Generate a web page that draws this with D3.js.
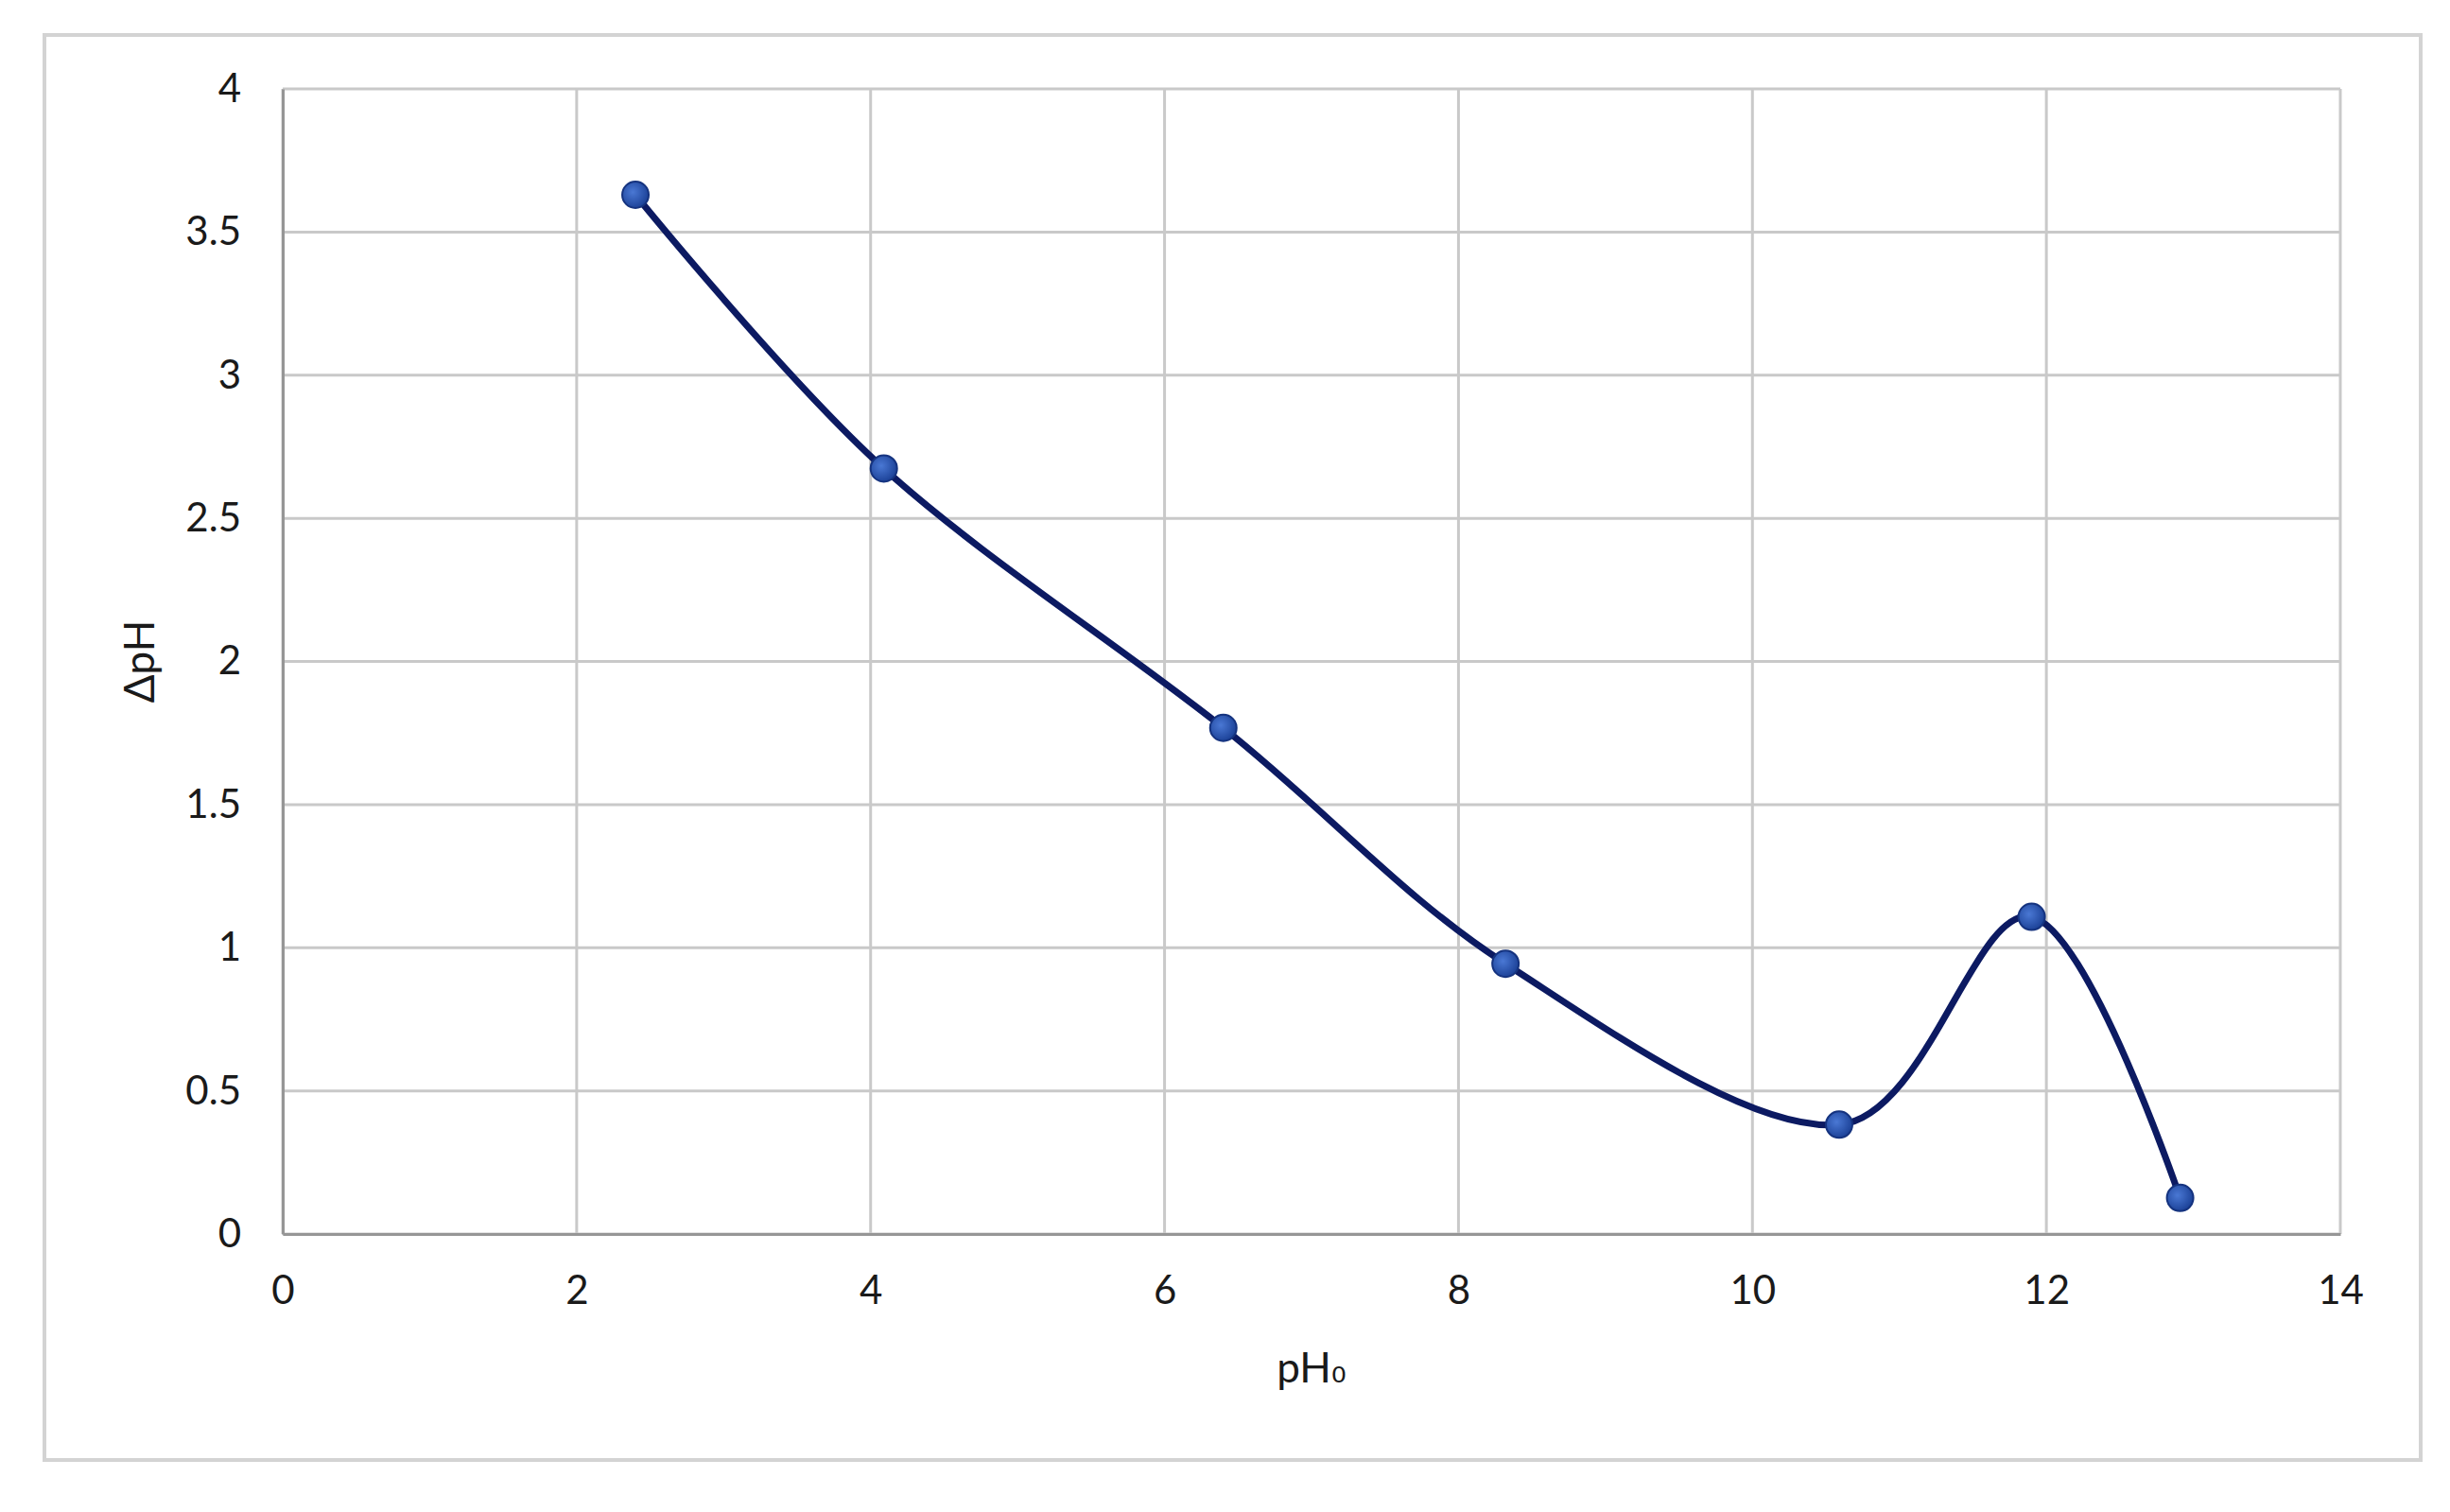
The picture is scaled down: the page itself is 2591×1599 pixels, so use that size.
<!DOCTYPE html>
<html>
<head>
<meta charset="utf-8">
<script src="https://cdn.jsdelivr.net/npm/d3@7"></script>
<style>
  html, body { margin: 0; padding: 0; background: #fff; }
  text { font-family: Lato, "Open Sans", sans-serif; fill: #1a1a1a; }
</style>
</head>
<body>
<div id="chart"></div>
<script>
// values
const ph0 = [2.4, 4.09, 6.4, 8.32, 10.59, 11.9, 12.91];
const deltaPh = [3.63, 2.674, 1.768, 0.944, 0.382, 1.108, 0.126];
const xTicks = [0, 2, 4, 6, 8, 10, 12, 14];
const yTicks = [0, 0.5, 1, 1.5, 2, 2.5, 3, 3.5, 4];

const width = 2591;
const height = 1599;
const margin = { top: 94, right: 116, bottom: 294, left: 299 };

const svg = d3.select('#chart')
  .append('svg')
  .attr('width', width)
  .attr('height', height);

// outer chart frame
svg.append('rect')
  .attr('x', 47)
  .attr('y', 37)
  .attr('width', 2513)
  .attr('height', 1507)
  .attr('fill', '#fff')
  .attr('stroke', '#d3d3d3')
  .attr('stroke-width', 4);

const x = d3.scaleLinear()
  .domain([0, 14])
  .range([margin.left, width - margin.right]);

const y = d3.scaleLinear()
  .domain([0, 4])
  .range([height - margin.bottom, margin.top]);

// grid
svg.append('g')
  .selectAll('line')
  .data(xTicks)
  .join('line')
  .attr('x1', (d) => x(d))
  .attr('x2', (d) => x(d))
  .attr('y1', y(0))
  .attr('y2', y(4))
  .attr('stroke', '#c9c9c9')
  .attr('stroke-width', 3);

svg.append('g')
  .selectAll('line')
  .data(yTicks)
  .join('line')
  .attr('x1', x(0))
  .attr('x2', x(14))
  .attr('y1', (d) => y(d))
  .attr('y2', (d) => y(d))
  .attr('stroke', '#c9c9c9')
  .attr('stroke-width', 3);

// axes, no tick marks, only labels
const xAxis = svg.append('g')
  .attr('transform', `translate(0,${y(0)})`)
  .call(d3.axisBottom(x).tickValues(xTicks).tickSize(0).tickPadding(44));

const yAxis = svg.append('g')
  .attr('transform', `translate(${x(0)},0)`)
  .call(d3.axisLeft(y).tickValues(yTicks).tickSize(0).tickPadding(44).tickFormat(d3.format('')));

[xAxis, yAxis].forEach((g) => {
  g.select('.domain').attr('stroke', '#969696').attr('stroke-width', 3);
  g.selectAll('text')
    .attr('fill', '#1a1a1a')
    .style('font-family', 'Lato, "Open Sans", sans-serif')
    .style('font-size', '42px');
});

// axis titles
const xTitle = svg.append('text')
  .attr('x', (x(0) + x(14)) / 2)
  .attr('y', 1462)
  .attr('text-anchor', 'middle')
  .style('font-size', '44px')
  .text('pH');
xTitle.append('tspan')
  .style('font-family', '"DejaVu Sans", sans-serif')
  .style('font-size', '40px')
  .text('₀');

svg.append('text')
  .attr('transform', `translate(163,${(y(0) + y(4)) / 2}) rotate(-90)`)
  .attr('text-anchor', 'middle')
  .style('font-size', '44px')
  .text('ΔpH');

// series
const points = ph0.map((d, i) => [d, deltaPh[i]]);

const line = d3.line()
  .x((d) => x(d[0]))
  .y((d) => y(d[1]))
  .curve(d3.curveCardinal.tension(0));

svg.append('path')
  .datum(points)
  .attr('fill', 'none')
  .attr('stroke', '#0c1a62')
  .attr('stroke-width', 7)
  .attr('d', line);

const defs = svg.append('defs');
const grad = defs.append('radialGradient')
  .attr('id', 'dot')
  .attr('cx', '40%')
  .attr('cy', '40%')
  .attr('r', '60%');
grad.append('stop').attr('offset', '0%').attr('stop-color', '#4a78d4');
grad.append('stop').attr('offset', '100%').attr('stop-color', '#1d4399');

svg.append('g')
  .selectAll('circle')
  .data(points)
  .join('circle')
  .attr('cx', (d) => x(d[0]))
  .attr('cy', (d) => y(d[1]))
  .attr('r', 14)
  .attr('fill', 'url(#dot)')
  .attr('stroke', '#15337f')
  .attr('stroke-width', 2);
</script>
</body>
</html>
